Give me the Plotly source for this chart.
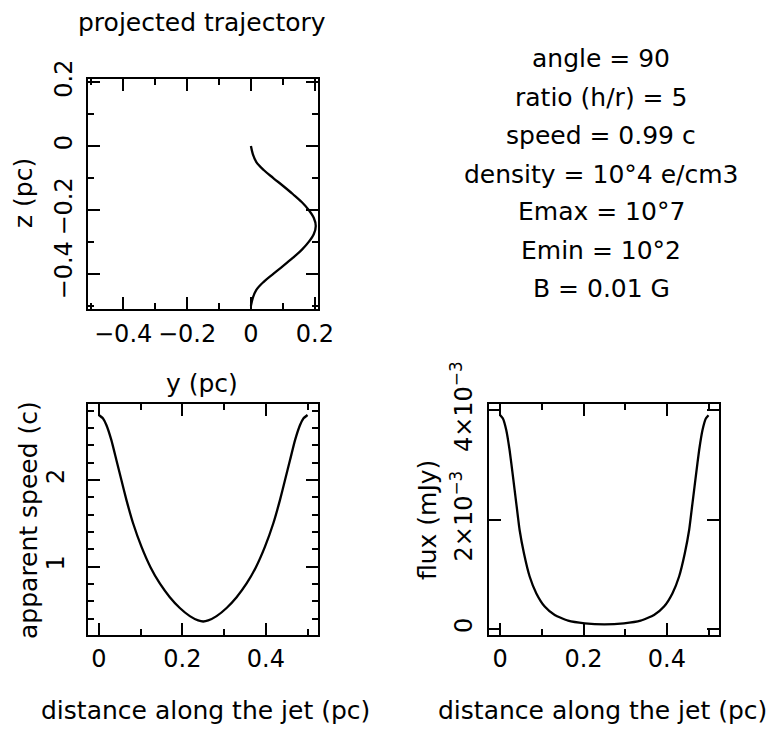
import plotly.graph_objects as go

# ---------------- data ----------------
traj_z = [0, -0.025, -0.05, -0.075, -0.1, -0.125, -0.15, -0.175, -0.2, -0.225, -0.25,
          -0.275, -0.3, -0.325, -0.35, -0.375, -0.4, -0.425, -0.45, -0.475, -0.5]
traj_y = [0, 0.006, 0.017, 0.040, 0.070, 0.101, 0.131, 0.159, 0.181, 0.197, 0.203,
          0.197, 0.181, 0.159, 0.131, 0.101, 0.070, 0.040, 0.017, 0.006, 0]

speed_x = [0, 0.010, 0.018, 0.030, 0.042, 0.054, 0.066, 0.082, 0.102, 0.124, 0.146, 0.170, 0.194,
           0.218, 0.238, 0.25, 0.262, 0.282, 0.306, 0.330, 0.354, 0.376, 0.398, 0.418, 0.434,
           0.446, 0.458, 0.470, 0.482, 0.490, 0.5]
speed_v = [2.75, 2.71, 2.635, 2.46, 2.23, 2.0, 1.77, 1.50, 1.23, 0.99, 0.805, 0.647, 0.522,
           0.428, 0.378, 0.366, 0.378, 0.428, 0.522, 0.647, 0.805, 0.99, 1.23, 1.50, 1.77,
           2.0, 2.23, 2.46, 2.635, 2.71, 2.75]

flux_x = [0, 0.0064, 0.0144, 0.0225, 0.0305, 0.0385, 0.0465, 0.057, 0.0706, 0.0867, 0.1067, 0.1308,
          0.1629, 0.203, 0.25, 0.297, 0.3371, 0.3692, 0.3933, 0.4133, 0.4294, 0.443, 0.4535,
          0.4615, 0.4695, 0.4775, 0.4856, 0.4936, 0.5]
flux_f = [3.91e-3, 3.85e-3, 3.64e-3, 3.27e-3, 2.79e-3, 2.30e-3, 1.81e-3, 1.38e-3, 0.96e-3, 0.65e-3,
          0.41e-3, 0.256e-3, 0.152e-3, 0.104e-3, 0.085e-3, 0.104e-3, 0.152e-3, 0.256e-3, 0.41e-3,
          0.65e-3, 0.96e-3, 1.38e-3, 1.81e-3, 2.30e-3, 2.79e-3, 3.27e-3, 3.64e-3, 3.85e-3, 3.91e-3]

flux_tickvals = [0, 0.002, 0.004]
flux_ticktext = ["0", "2×10<sup>−3</sup>", "4×10<sup>−3</sup>"]

info_lines = ["angle = 90", "ratio (h/r) = 5", "speed = 0.99 c", "density = 10°4 e/cm3",
              "Emax = 10°7", "Emin = 10°2", "B = 0.01 G"]

# ---------------- layout helpers ----------------
W, H = 780, 730
OFF = 8          # page body margin
FONT = "DejaVu Sans"
FS = 24          # tick labels
TS = 25          # titles / text


def px(x):
    return (x - OFF) / W


def py(y):
    return 1 - (y - OFF) / H


line_style = dict(color="black", width=2.3)

fig = go.Figure()
fig.add_trace(go.Scatter(x=traj_y, y=traj_z, mode="lines", line=dict(shape="spline", smoothing=1.0, **line_style),
                         xaxis="x", yaxis="y", hoverinfo="skip"))
fig.add_trace(go.Scatter(x=speed_x, y=speed_v, mode="lines", line=dict(shape="spline", smoothing=0.5, **line_style),
                         xaxis="x2", yaxis="y2", hoverinfo="skip"))
fig.add_trace(go.Scatter(x=flux_x, y=flux_f, mode="lines", line=dict(shape="spline", smoothing=0.5, **line_style),
                         xaxis="x3", yaxis="y3", hoverinfo="skip"))


def ax(**kw):
    d = dict(showline=True, linecolor="black", linewidth=2, mirror="ticks",
             ticks="inside", ticklen=12, tickwidth=2, tickcolor="black",
             showgrid=False, zeroline=False, fixedrange=True, automargin=False,
             tickfont=dict(family=FONT, size=FS, color="black"))
    d.update(kw)
    return d


def minor(dt):
    return dict(ticks="inside", ticklen=6, tickwidth=2, tickcolor="black", dtick=dt, showgrid=False)


fig.update_layout(
    template="none",
    width=W, height=H, margin=dict(l=0, r=0, t=0, b=0, pad=0), autosize=False,
    paper_bgcolor="white", plot_bgcolor="white", showlegend=False,
    font=dict(family=FONT, size=FS, color="black"),
    xaxis=ax(domain=[px(88), px(318)], anchor="y", range=[-0.51, 0.21], tickmode="linear",
             tick0=0, dtick=0.2, minor=minor(0.1), tickangle=0, ticklabelstandoff=2),
    yaxis=ax(domain=[py(309), py(79)], anchor="x", range=[-0.51, 0.21], tickmode="linear",
             tick0=0, dtick=0.2, minor=minor(0.1), tickangle=-90, ticklabelstandoff=4),
    xaxis2=ax(domain=[px(88), px(318)], anchor="y2", range=[-0.026, 0.525], tickmode="linear",
              tick0=0, dtick=0.2, minor=minor(0.1), tickangle=0, ticklabelstandoff=1),
    yaxis2=ax(domain=[py(635), py(404)], anchor="x2", range=[0.21, 2.877], tickmode="linear",
              tick0=0, dtick=1, minor=minor(0.2), tickangle=-90, ticklabelstandoff=12),
    xaxis3=ax(domain=[px(489), px(718.5)], anchor="y3", range=[-0.027, 0.524], tickmode="linear",
              tick0=0, dtick=0.2, minor=minor(0.1), tickangle=0, ticklabelstandoff=1),
    yaxis3=ax(domain=[py(635), py(404)], anchor="x3", range=[-0.11e-3, 4.116e-3], tickmode="array",
              tickvals=flux_tickvals, ticktext=flux_ticktext, tickangle=-90, ticklabelstandoff=5),
)

annots = []


def text(t, x, y, angle=0, size=TS, **kw):
    d = dict(text=t, x=px(x), y=py(y), xref="paper", yref="paper", showarrow=False,
             xanchor="center", yanchor="middle", textangle=angle,
             font=dict(family=FONT, size=size, color="black"))
    d.update(kw)
    annots.append(d)


text("projected trajectory", 202, 23, borderpad=0, borderwidth=0)
text("y (pc)", 202, 383)
text("z (pc)", 23, 193, angle=-90)
text("apparent speed (c)", 28, 520, angle=-90)
text("distance along the jet (pc)", 205, 710)
text("flux (mJy)", 427, 520, angle=-90)
text("distance along the jet (pc)", 602, 710)

info_y = [59, 97, 136, 174, 212, 250, 288]
for t, yy in zip(info_lines, info_y):
    text(t, 601, yy)

fig.update_layout(annotations=annots)
fig.write_html("out.html")
